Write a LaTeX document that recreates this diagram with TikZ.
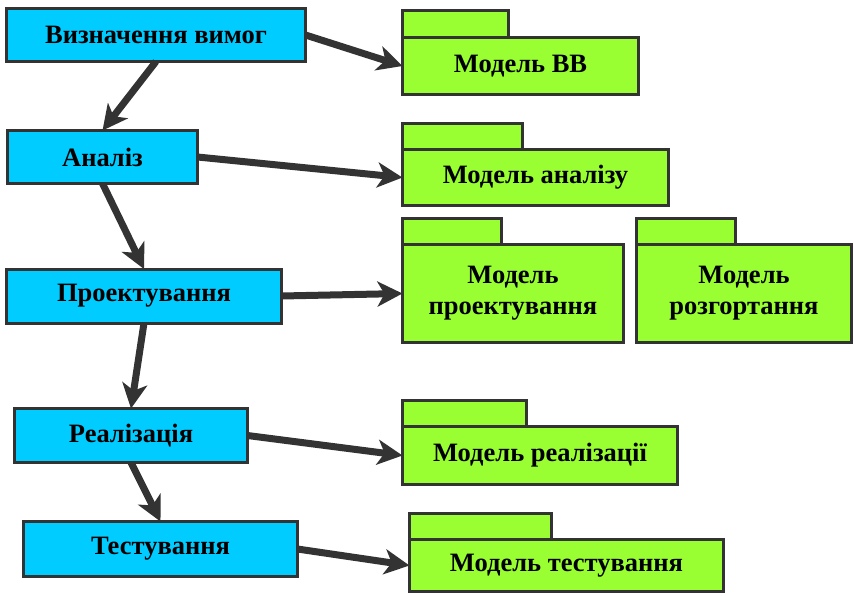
\documentclass[tikz,border=0pt]{standalone}
\usepackage{fontspec}
\setmainfont{Liberation Serif}
\usetikzlibrary{arrows.meta}
\definecolor{stageblue}{HTML}{00CCFF}
\definecolor{modelgreen}{HTML}{99FF33}
\definecolor{edgegray}{HTML}{333333}
\begin{document}
\begin{tikzpicture}[x=1pt,y=-1pt,
  every node/.style={font=\fontsize{26.5}{29}\selectfont\bfseries, inner sep=0pt, outer sep=0pt},
  stage/.style={draw=edgegray, fill=stageblue, line width=3pt},
  body/.style={draw=edgegray, fill=modelgreen, line width=3pt, align=center},
  tab/.style={draw=edgegray, fill=modelgreen, line width=3pt, anchor=south west},
  flow/.style={draw=edgegray, line width=7pt,
    -{Stealth[length=25pt,width=25pt,inset=7pt]}}]
\useasboundingbox (0,0) rectangle (854,595);

% process stages
\node[stage, minimum width=299pt, minimum height=53pt] (req)  at (156,35)    {Визначення вимог};
\node[stage, minimum width=190pt, minimum height=53pt] (ana)  at (102.5,157) {Аналіз};
\node[stage, minimum width=275pt, minimum height=54pt] (des)  at (144,296)   {Проектування};
\node[stage, minimum width=233pt, minimum height=54pt] (impl) at (131,435.5) {Реалізація};
\node[stage, minimum width=274pt, minimum height=55pt] (test) at (160.5,549) {Тестування};

% model packages (body + tab)
\node[body, minimum width=236pt, minimum height=57pt] (mreq)  at (520.5,66)    {Модель ВВ};
\node[tab, minimum width=106pt, minimum height=27pt] (mreqT) at (mreq.north west) {};
\node[body, minimum width=266pt, minimum height=56pt] (mana)  at (535.5,177.5) {Модель аналізу};
\node[tab, minimum width=120pt, minimum height=26pt] (manaT) at (mana.north west) {};
\node[body, minimum width=221pt, minimum height=98pt] (mdes)  at (513,293.5)   {Модель\\[2pt]проектування};
\node[tab, minimum width=99pt, minimum height=26pt] (mdesT) at (mdes.north west) {};
\node[body, minimum width=215pt, minimum height=98pt] (mdep)  at (744,293.5)   {Модель\\[2pt]розгортання};
\node[tab, minimum width=99pt, minimum height=26pt] (mdepT) at (mdep.north west) {};
\node[body, minimum width=275pt, minimum height=58pt] (mimpl) at (540,455.5)   {Модель реалізації};
\node[tab, minimum width=124pt, minimum height=26pt] (mimplT) at (mimpl.north west) {};
\node[body, minimum width=314pt, minimum height=52pt] (mtest) at (566.5,565.5) {Модель тестування};
\node[tab, minimum width=142pt, minimum height=26pt] (mtestT) at (mtest.north west) {};

% stage sequence
\draw[flow] (req.south)  -- (ana.north);
\draw[flow] (ana.south)  -- (des.north);
\draw[flow] (des.south)  -- (impl.north);
\draw[flow] (impl.south) -- (test.north);

% stage outputs
\draw[flow] (req.east)  -- (mreq.west);
\draw[flow] (ana.east)  -- (mana.west);
\draw[flow] (des.east)  -- (mdes.west);
\draw[flow] (impl.east) -- (mimpl.west);
\draw[flow] (test.east) -- (mtest.west);
\end{tikzpicture}
\end{document}
